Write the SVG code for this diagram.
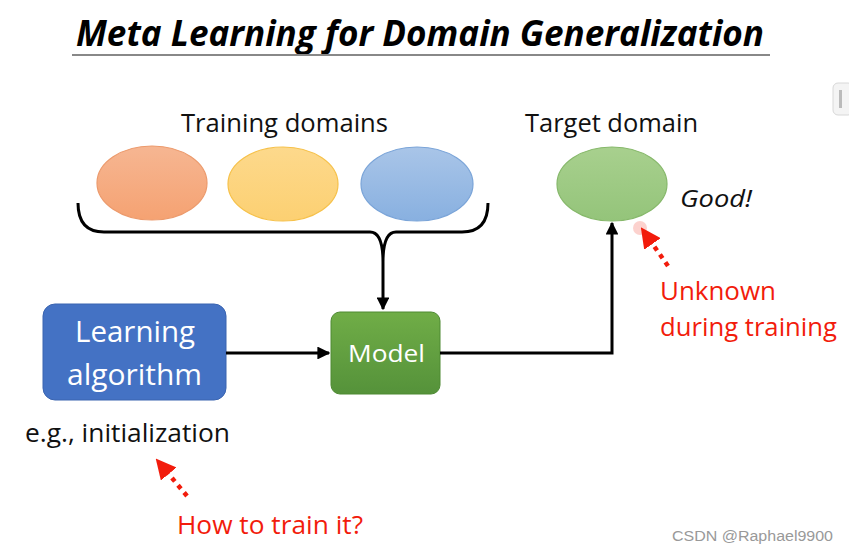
<svg xmlns="http://www.w3.org/2000/svg" width="849" height="554" viewBox="0 0 849 554">
<defs>
<style>
.t{font-family:"Open Sans","Liberation Sans",sans-serif;}
.blk{fill:#111;font-size:25.5px;}
.red{fill:#f21c0c;font-size:25.5px;}
.wt{fill:#fff;font-size:29px;}
.ln{stroke:#000;stroke-width:3;fill:none;}
.dot{stroke:#f21c0c;stroke-width:4.5;stroke-dasharray:4.5 5;fill:none;}
</style>
<marker id="ah" viewBox="0 0 10 10" refX="9" refY="5" markerWidth="4.3" markerHeight="4.3" orient="auto"><path d="M0,0 L10,5 L0,10 z" fill="#000"/></marker>
<marker id="rh" viewBox="0 0 10 10" refX="9" refY="5" markerWidth="4.5" markerHeight="4.5" orient="auto"><path d="M0,0 L10,5 L0,10 z" fill="#f21c0c"/></marker>
<linearGradient id="go" x1="0" y1="0" x2="0" y2="1"><stop offset="0" stop-color="#f6b692"/><stop offset="1" stop-color="#f5a272"/></linearGradient>
<linearGradient id="gy" x1="0" y1="0" x2="0" y2="1"><stop offset="0" stop-color="#fdd98c"/><stop offset="1" stop-color="#fcd072"/></linearGradient>
<linearGradient id="gb" x1="0" y1="0" x2="0" y2="1"><stop offset="0" stop-color="#a9c5e8"/><stop offset="1" stop-color="#88b0e0"/></linearGradient>
<linearGradient id="gg" x1="0" y1="0" x2="0" y2="1"><stop offset="0" stop-color="#a8d08e"/><stop offset="1" stop-color="#94c47a"/></linearGradient>
<linearGradient id="gm" x1="0" y1="0" x2="0" y2="1"><stop offset="0" stop-color="#70ad47"/><stop offset="1" stop-color="#55923a"/></linearGradient>
</defs>
<rect width="849" height="554" fill="#fff"/>
<rect x="833" y="83" width="20" height="32" rx="5" fill="#f4f4f4" stroke="#d8d8d8"/>
<rect x="839" y="90" width="3" height="18" fill="#bbb"/>

<g id="title">
<text class="t" x="420" y="46" text-anchor="middle" font-size="35" font-weight="bold" font-style="italic" fill="#000" textLength="688" lengthAdjust="spacingAndGlyphs">Meta Learning for Domain Generalization</text>
<line x1="72" y1="55" x2="770" y2="55" stroke="#888" stroke-width="2"/>
</g>

<g id="training-domains">
<text class="t blk" x="181" y="132" textLength="207" lengthAdjust="spacingAndGlyphs">Training domains</text>
<ellipse cx="152" cy="183" rx="55" ry="37" fill="url(#go)" stroke="#ec9a6c" stroke-width="1.2"/>
<ellipse cx="283" cy="184" rx="55" ry="37" fill="url(#gy)" stroke="#f6c14a" stroke-width="1.2"/>
<ellipse cx="417" cy="184" rx="56" ry="37" fill="url(#gb)" stroke="#7aa4d8" stroke-width="1.2"/>
</g>

<g id="target-domain">
<text class="t blk" x="525" y="132" textLength="173" lengthAdjust="spacingAndGlyphs">Target domain</text>
<ellipse cx="612" cy="184" rx="55" ry="37" fill="url(#gg)" stroke="#86b86a" stroke-width="1.2"/>
<text class="t" x="680" y="207" font-size="24" font-style="italic" fill="#111" textLength="72" lengthAdjust="spacingAndGlyphs">Good!</text>
</g>

<g id="learning-algorithm">
<rect x="43" y="304" width="183" height="96" rx="12" fill="#4472c4" stroke="#3a64b0"/>
<text class="t wt" x="75" y="342" textLength="120" lengthAdjust="spacingAndGlyphs">Learning</text>
<text class="t wt" x="67" y="385" textLength="135" lengthAdjust="spacingAndGlyphs">algorithm</text>
<text class="t blk" x="25" y="442" textLength="205" lengthAdjust="spacingAndGlyphs">e.g., initialization</text>
</g>

<g id="model">
<rect x="331" y="312" width="109" height="82" rx="9" fill="url(#gm)" stroke="#4e8a33"/>
<text class="t" x="348" y="362" font-size="24" fill="#fff" textLength="77" lengthAdjust="spacingAndGlyphs">Model</text>
</g>

<g id="annotations">
<text class="t red" x="660" y="300" textLength="116" lengthAdjust="spacingAndGlyphs">Unknown</text>
<text class="t red" x="660" y="336" textLength="177" lengthAdjust="spacingAndGlyphs">during training</text>
<text class="t red" x="177" y="534" textLength="186" lengthAdjust="spacingAndGlyphs">How to train it?</text>
<text x="672" y="541" font-family="Liberation Sans, Arial, sans-serif" font-size="15.5" fill="#999" textLength="161" lengthAdjust="spacingAndGlyphs">CSDN @Raphael9900</text>
</g>

<g id="connectors">
<path class="ln" d="M78,203 Q78,232 104,232 L370,232 Q383,232 383,262 Q383,232 396,232 L462,232 Q488,232 488,203"/>
<line class="ln" x1="383" y1="262" x2="383" y2="309" marker-end="url(#ah)"/>
<line class="ln" x1="226" y1="353" x2="329" y2="353" marker-end="url(#ah)"/>
<polyline class="ln" points="440,353 612,353 612,223" marker-end="url(#ah)"/>
<line class="dot" x1="668" y1="266" x2="642" y2="229" marker-end="url(#rh)"/>
<circle cx="640" cy="228" r="7" fill="#f21c0c" opacity="0.2"/>
<line class="dot" x1="187" y1="496" x2="157" y2="460" marker-end="url(#rh)"/>
</g>
</svg>
